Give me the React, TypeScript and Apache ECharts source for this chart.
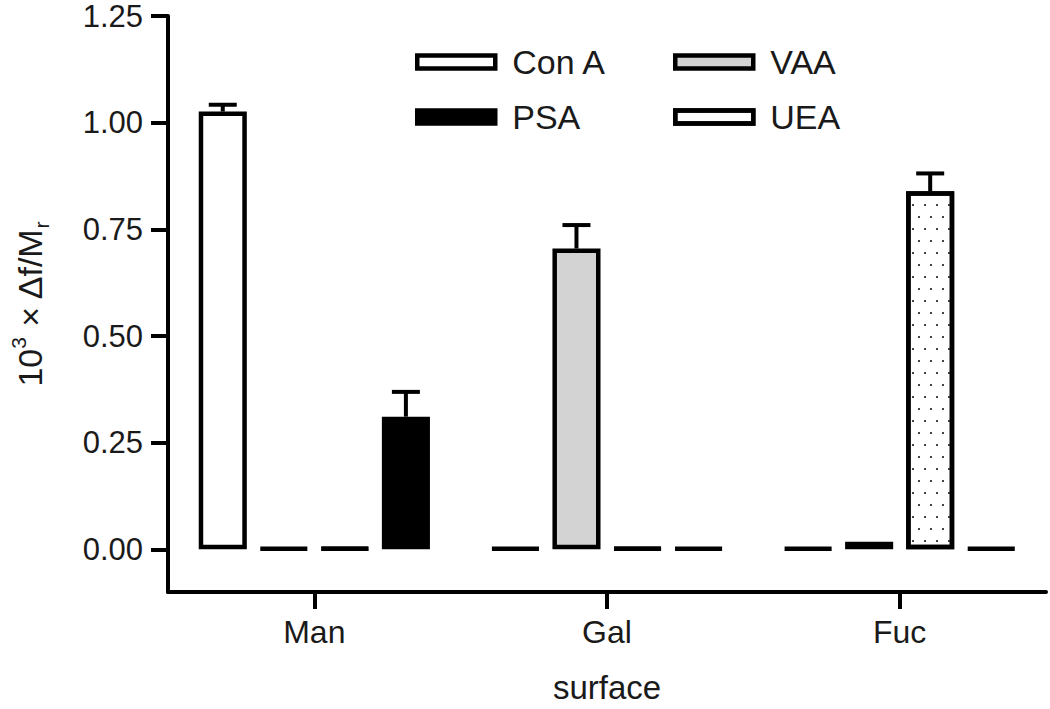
import React, { useEffect, useRef } from 'react';
import * as echarts from 'echarts';

const categories = ['Man', 'Gal', 'Fuc'];
const seriesNames = ['Con A', 'VAA', 'UEA', 'PSA'];
const conAValues = [1.026, 0, 0];
const vaaValues = [0, 0.705, 0.018];
const ueaValues = [0, 0, 0.839];
const psaValues = [0.311, 0, 0];
const conAErrors = [0.016, 0, 0];
const vaaErrors = [0, 0.055, 0];
const ueaErrors = [0, 0, 0.042];
const psaErrors = [0.058, 0, 0];
const yTickValues = [0, 0.25, 0.5, 0.75, 1.0, 1.25];

const BAR_CATEGORY_GAP = 0.21;
const BAR_GAP = 0.27;
const FONT = '"Liberation Sans", Arial, sans-serif';

export default function App() {
  const ref = useRef<HTMLDivElement>(null);
  useEffect(() => {
    if (!ref.current) return;
    const chart = echarts.init(ref.current, undefined, { renderer: 'svg' });
    const values = [conAValues, vaaValues, ueaValues, psaValues];
    const errors = [conAErrors, vaaErrors, ueaErrors, psaErrors];
    const fills = ['#ffffff', '#d3d3d3', '#ffffff', '#000000'];
    const n = seriesNames.length;

    const barSeries = seriesNames.map((name, i) => ({
      name,
      type: 'bar',
      data: values[i],
      barCategoryGap: (BAR_CATEGORY_GAP * 100) + '%',
      barGap: (BAR_GAP * 100) + '%',
      barMinHeight: 1,
      itemStyle: {
        color: fills[i],
        borderColor: '#000',
        borderWidth: 4.5,
        decal: name === 'UEA' ? {
          symbol: 'rect',
          symbolSize: 1,
          color: '#444',
          dashArrayX: [[2, 10], [0, 6, 2, 4]],
          dashArrayY: [2, 10],
          rotation: 0,
        } : 'none',
      },
      z: 2,
    }));

    const errSeries = seriesNames.map((name, i) => ({
      name: name + ' err',
      type: 'custom',
      z: 3,
      data: categories.map((c, ci) => [ci, values[i][ci], errors[i][ci]]),
      renderItem: (params: any, api: any) => {
        const ci = api.value(0);
        const v = api.value(1);
        const e = api.value(2);
        if (!(e > 0)) return { type: 'group', children: [] };
        const catW = api.size([1, 0])[0];
        const barW = (catW * (1 - BAR_CATEGORY_GAP)) / (n + (n - 1) * BAR_GAP);
        const groupW = n * barW + (n - 1) * barW * BAR_GAP;
        const base = api.coord([ci, v]);
        const cx = base[0] - groupW / 2 + barW / 2 + i * barW * (1 + BAR_GAP);
        const yTop = api.coord([ci, v + e])[1];
        const yBar = base[1];
        const style = { stroke: '#000', lineWidth: 4 };
        return {
          type: 'group',
          children: [
            { type: 'line', shape: { x1: cx, y1: yBar, x2: cx, y2: yTop }, style },
            { type: 'line', shape: { x1: cx - 14, y1: yTop, x2: cx + 14, y2: yTop }, style },
          ],
        };
      },
    }));

    const legendCommon = {
      orient: 'vertical',
      top: 45,
      padding: 0,
      itemWidth: 78,
      itemHeight: 13,
      itemGap: 21,
      icon: 'rect',
      itemStyle: { borderWidth: 4.5, borderColor: '#000' },
      textStyle: { fontSize: 34, color: '#1a1a1a', fontFamily: FONT, padding: [0, 0, 0, 12] },
    };

    chart.setOption({
      animation: false,
      backgroundColor: '#fff',
      grid: { left: 168, right: 4, top: 16, bottom: 116 },
      legend: [
        { ...legendCommon, left: 415, data: ['Con A', 'PSA'] },
        { ...legendCommon, left: 673, data: ['VAA', 'UEA'] },
      ],
      xAxis: {
        type: 'category',
        data: categories,
        name: 'surface',
        nameLocation: 'middle',
        nameGap: 79,
        nameTextStyle: { fontSize: 33, color: '#1a1a1a', fontFamily: FONT },
        axisLine: { show: true, onZero: false, lineStyle: { color: '#000', width: 4 } },
        axisTick: { show: true, alignWithLabel: true, length: 17, lineStyle: { color: '#000', width: 4 } },
        axisLabel: { show: true, fontSize: 32, color: '#1a1a1a', fontFamily: FONT, margin: 24 },
        splitLine: { show: false },
      },
      yAxis: {
        type: 'value',
        min: -0.1,
        max: 1.25,
        name: '10{sup|3} × Δf/M{sub|r}',
        nameLocation: 'middle',
        nameRotate: 90,
        nameGap: 116,
        nameTextStyle: {
          fontSize: 34,
          color: '#1a1a1a',
          fontFamily: FONT,
          lineHeight: 44,
          rich: {
            sup: { fontSize: 21, verticalAlign: 'top', lineHeight: 44, color: '#1a1a1a', fontFamily: FONT },
            sub: { fontSize: 21, verticalAlign: 'bottom', lineHeight: 44, color: '#1a1a1a', fontFamily: FONT },
          },
        },
        axisLine: { show: true, onZero: false, lineStyle: { color: '#000', width: 4 } },
        axisTick: { show: true, length: 17, customValues: yTickValues, lineStyle: { color: '#000', width: 4 } },
        axisLabel: {
          customValues: yTickValues,
          fontSize: 31,
          color: '#1a1a1a',
          fontFamily: FONT,
          margin: 25,
          formatter: (v: number) => v.toFixed(2),
        },
        splitLine: { show: false },
      },
      series: [...barSeries, ...errSeries],
    });
    return () => chart.dispose();
  }, []);
  return <div ref={ref} style={{ position: 'fixed', left: 0, top: 0, width: 1050, height: 709 }} />;
}
